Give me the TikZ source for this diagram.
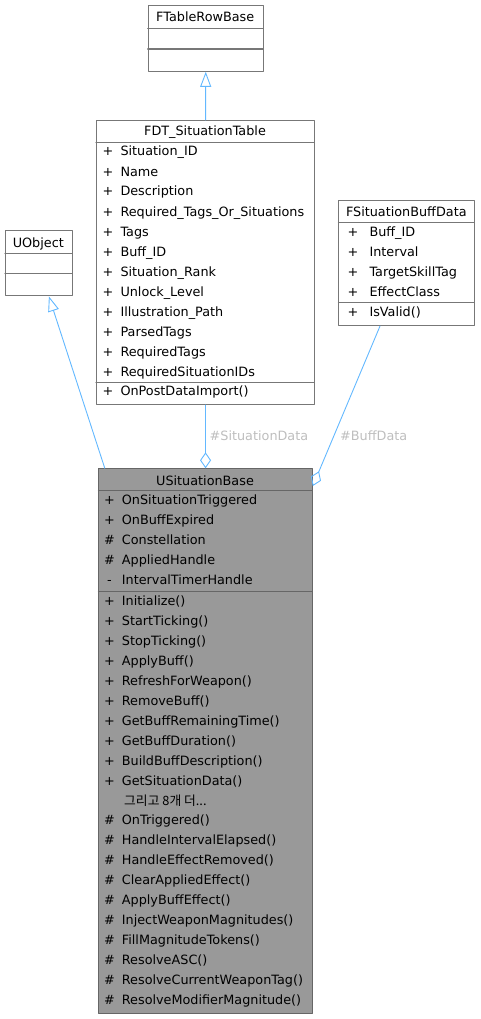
\documentclass[tikz,border=0pt]{standalone}
\usepackage{fontspec}
\setmainfont{DejaVu Sans}
\newfontfamily\krfont{Noto Sans CJK KR}
\usetikzlibrary{arrows.meta,calc}
\definecolor{edgeblue}{HTML}{63B8FF}
\definecolor{boxline}{HTML}{777777}
\definecolor{basefill}{HTML}{999999}
\definecolor{baseedge}{HTML}{666666}
\definecolor{rolegray}{HTML}{BEBEBE}

\begin{document}
\begin{tikzpicture}[line cap=round,line join=round,x=1pt,y=-1pt,
  font=\fontsize{12.8}{15}\selectfont,
  box/.style={draw=boxline,line width=1.1pt,fill=white,inner sep=0pt,anchor=north west},
  basebox/.style={box,draw=baseedge,fill=basefill},
  sep/.style={draw=boxline,line width=1.1pt},
  basesep/.style={draw=baseedge,line width=1.1pt},
  ttl/.style={inner sep=0pt,anchor=base},
  sym/.style={inner sep=0pt,anchor=base},
  txt/.style={inner sep=0pt,anchor=base west},
  inherit/.style={draw=edgeblue,line width=0.9pt,-{Triangle[open,length=15pt,width=11pt]}},
  aggr/.style={draw=edgeblue,line width=0.9pt,-{Diamond[open,length=16pt,width=11pt]}},
  rolelbl/.style={text=rolegray,inner sep=0pt,anchor=base west}]
\useasboundingbox (0,0) rectangle (480,1019);

\node[box,minimum width=115pt,minimum height=65.7pt] (frb) at (147.7,5) {};
\draw[sep] (147.7,28.7) -- (262.7,28.7);
\draw[sep] (147.7,49) -- (262.7,49);
\node[ttl] (frbt) at (205.2,22) {FTableRowBase};

\node[box,minimum width=218pt,minimum height=284pt] (fdt) at (96,120) {};
\draw[sep] (96,142.7) -- (314,142.7);
\draw[sep] (96,382.7) -- (314,382.7);
\node[ttl] (fdtt) at (205,136) {FDT\_SituationTable};
\foreach \m [count=\i from 0] in {Situation\_ID,Name,Description,Required\_Tags\_Or\_Situations,Tags,Buff\_ID,Situation\_Rank,Unlock\_Level,Illustration\_Path,ParsedTags,RequiredTags,RequiredSituationIDs}{
  \node[sym] (fdts\i) at (108,156+20*\i) {+};
  \node[txt] (fdta\i) at (120.3,156+20*\i) {\m};
}
\node[sym] (fdtms) at (108,395.7) {+};
\node[txt] (fdtm) at (120.3,395.7) {OnPostDataImport()};

\node[box,minimum width=136pt,minimum height=125pt] (fsbd) at (338.3,200) {};
\draw[sep] (338.3,222.3) -- (474.3,222.3);
\draw[sep] (338.3,302.7) -- (474.3,302.7);
\node[ttl] (fsbdt) at (406.3,216) {FSituationBuffData};
\foreach \m [count=\i from 0] in {Buff\_ID,Interval,TargetSkillTag,EffectClass}{
  \node[sym] (fsbds\i) at (353,236+20*\i) {+};
  \node[txt] (fsbda\i) at (369.3,236+20*\i) {\m};
}
\node[sym] (fsbdms) at (353,316) {+};
\node[txt] (fsbdm) at (369.3,316) {IsValid()};

\node[box,minimum width=66.7pt,minimum height=65.3pt] (uobj) at (5,230) {};
\draw[sep] (5,253.3) -- (71.7,253.3);
\draw[sep] (5,273.3) -- (71.7,273.3);
\node[ttl] (uobjt) at (38.3,247.3) {UObject};

\node[basebox,minimum width=213.4pt,minimum height=544.7pt] (usb) at (98.3,468.3) {};
\draw[basesep] (98.3,490.7) -- (311.7,490.7);
\draw[basesep] (98.3,591.7) -- (311.7,591.7);
\node[ttl] (usbt) at (205,485) {USituationBase};
\foreach \s/\m [count=\i from 0] in {+/OnSituationTriggered,+/OnBuffExpired,\#/Constellation,\#/AppliedHandle,-/IntervalTimerHandle}{
  \node[sym] (usbs\i) at (109.5,504.5+20*\i) {\s};
  \node[txt] (usba\i) at (121.7,504.5+20*\i) {\m};
}
\foreach \m [count=\i from 0] in {Initialize(),StartTicking(),StopTicking(),ApplyBuff(),RefreshForWeapon(),RemoveBuff(),GetBuffRemainingTime(),GetBuffDuration(),BuildBuffDescription(),GetSituationData()}{
  \node[sym] (usbps\i) at (109.5,605+20*\i) {+};
  \node[txt] (usbp\i) at (121.7,605+20*\i) {\m};
}
\node[txt] (usbmore) at (124,805) {\krfont 그리고 8개 더...};
\foreach \m [count=\i from 0] in {OnTriggered(),HandleIntervalElapsed(),HandleEffectRemoved(),ClearAppliedEffect(),ApplyBuffEffect(),InjectWeaponMagnitudes(),FillMagnitudeTokens(),ResolveASC(),ResolveCurrentWeaponTag(),ResolveModifierMagnitude()}{
  \node[sym] (usbqs\i) at (109.5,824.8+19.98*\i) {\#};
  \node[txt] (usbq\i) at (121.7,824.8+19.98*\i) {\m};
}

\draw[inherit] (fdt.north) -- (frb.south);
\draw[inherit] ($(usb.north west)+(6.5,0)$) -- ($(uobj.south)+(10,0)$);
\draw[aggr] (fdt.south) -- (usb.north);
\draw[aggr] ($(fsbd.south west)+(41.7,0)$) -- ($(usb.north east)+(0,17.7)$);
\node[rolelbl] (sdlbl) at (209.5,440) {\#SituationData};
\node[rolelbl] (bdlbl) at (340,440) {\#BuffData};
\end{tikzpicture}
\end{document}
